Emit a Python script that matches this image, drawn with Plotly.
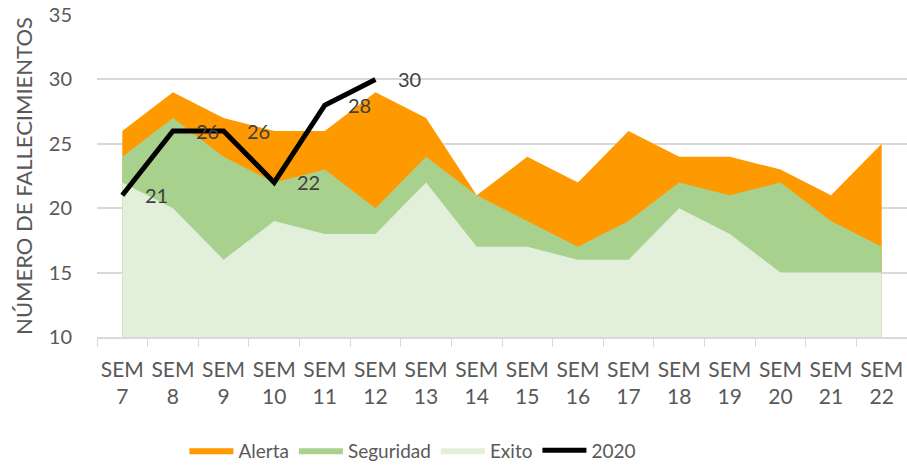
import plotly.graph_objects as go

categories = ["SEM<br>7", "SEM<br>8", "SEM<br>9", "SEM<br>10", "SEM<br>11", "SEM<br>12",
              "SEM<br>13", "SEM<br>14", "SEM<br>15", "SEM<br>16", "SEM<br>17", "SEM<br>18",
              "SEM<br>19", "SEM<br>20", "SEM<br>21", "SEM<br>22"]
alerta = [26, 29, 27, 26, 26, 29, 27, 21, 24, 22, 26, 24, 24, 23, 21, 25]
seguridad = [24, 27, 24, 22, 23, 20, 24, 21, 19, 17, 19, 22, 21, 22, 19, 17]
exito = [22, 20, 16, 19, 18, 18, 22, 17, 17, 16, 16, 20, 18, 15, 15, 15]
cat_2020 = categories[:6]
val_2020 = [21, 26, 26, 22, 28, 30]

FONT = "Lato"
TXT = "#595959"
GRID = "#d9d9d9"

fig = go.Figure()
for name, vals, col in [("Alerta", alerta, "#FF9900"),
                        ("Seguridad", seguridad, "#A9D18E"),
                        ("Exito", exito, "#E2EFDA")]:
    fig.add_trace(go.Scatter(x=categories, y=vals, name=name, mode="lines",
                             line=dict(width=0, color=col), fill="tozeroy",
                             fillcolor=col, hoverinfo="x+y+name"))

fig.add_trace(go.Scatter(x=cat_2020, y=val_2020, name="2020", mode="lines",
                         line=dict(color="black", width=5)))

for c, v in zip(cat_2020, val_2020):
    fig.add_annotation(x=c, y=v, text=str(v), showarrow=False, xanchor="left",
                       yanchor="middle", xshift=21,
                       font=dict(family=FONT, size=20, color="#404040"))

fig.update_layout(
    width=907, height=470,
    margin=dict(l=97, r=0, t=15, b=130),
    paper_bgcolor="white", plot_bgcolor="white",
    font=dict(family=FONT, size=20, color=TXT),
    showlegend=True,
    legend=dict(orientation="h", x=0.39, xanchor="center", y=-0.352, yanchor="middle",
                font=dict(family=FONT, size=19, color=TXT), itemwidth=44,
                traceorder="normal", bgcolor="rgba(0,0,0,0)"),
    xaxis=dict(type="category", range=[-0.5, 15.5], showgrid=False, automargin=False,
               showline=True, linecolor=GRID, linewidth=1.5,
               ticks="outside", tickson="boundaries", ticklen=8, tickcolor=GRID,
               ticklabelstandoff=13, tickangle=0, ticklabeloverflow="allow",
               tickfont=dict(family=FONT, size=21, color=TXT), fixedrange=True),
    yaxis=dict(range=[10, 35], dtick=5, showgrid=True, gridcolor=GRID, gridwidth=1.5,
               zeroline=False, showline=False, ticks="", automargin=False,
               ticklabelstandoff=24, ticklabeloverflow="allow",
               tickfont=dict(family=FONT, size=20, color=TXT),
               title=dict(text="NÚMERO DE FALLECIMIENTOS", standoff=10,
                          font=dict(family=FONT, size=22, color=TXT)),
               fixedrange=True),
)

fig.write_html("out.html", config={"displayModeBar": False},
               post_script="document.body.style.margin='0';document.body.style.overflow='hidden';")
